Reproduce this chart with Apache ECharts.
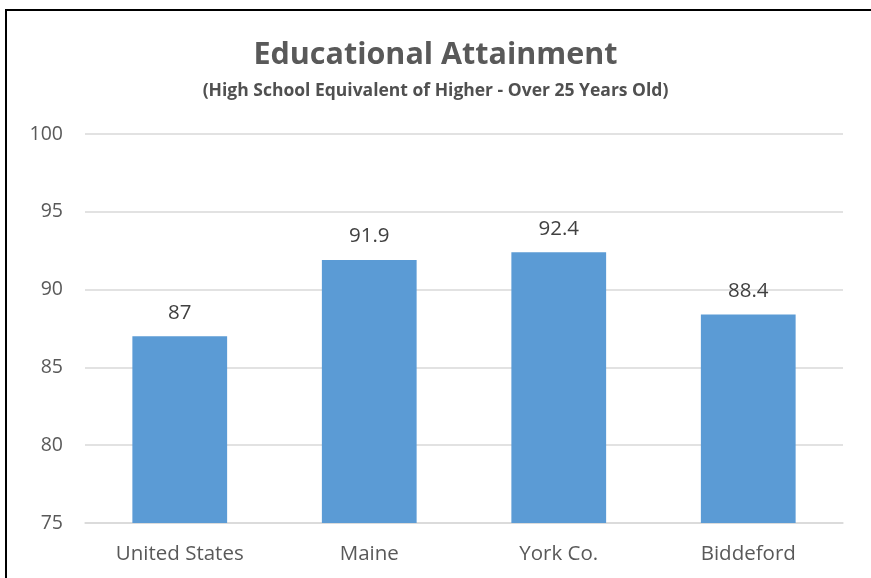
<!DOCTYPE html>
<html>
<head>
<meta charset="utf-8">
<script src="https://cdn.jsdelivr.net/npm/echarts@6/dist/echarts.min.js"></script>
<style>
    html, body { margin: 0; padding: 0; background: #fff; }
    #myChart { width: 871px; height: 578px; }
</style>
</head>
<body>
<div id="myChart"></div>
<script>
// data
var categories = ['United States', 'Maine', 'York Co.', 'Biddeford']
var attainment = [87, 91.9, 92.4, 88.4]
var yTicks = [75, 80, 85, 90, 95, 100]

var font = '"Open Sans", "Noto Sans", sans-serif'

var myChart = echarts.init(document.getElementById('myChart'))
var option = {
    backgroundColor: '#fff',
    title: {
        text: 'Educational Attainment',
        subtext: '(High School Equivalent of Higher - Over 25 Years Old)',
        left: 'center',
        top: 35,
        itemGap: 11,
        textStyle: {
            fontFamily: font,
            fontSize: 30.5,
            fontWeight: 'bold',
            color: '#595959'
        },
        subtextStyle: {
            fontFamily: font,
            fontSize: 17.5,
            fontWeight: 'bold',
            color: '#505050'
        }
    },
    // chart border (left and top edges visible only)
    graphic: [{
        type: 'rect',
        shape: { x: 6, y: 10, width: 900, height: 600 },
        style: { fill: 'none', stroke: '#000', lineWidth: 2 },
        silent: true
    }],
    grid: {
        left: 85,
        right: 28,
        top: 134,
        bottom: 55
    },
    xAxis: {
        type: 'category',
        data: categories,
        axisLine: { lineStyle: { color: '#d9d9d9', width: 1.5 } },
        axisTick: { show: false },
        axisLabel: {
            fontFamily: font,
            fontSize: 20.5,
            color: '#595959',
            margin: 21
        }
    },
    yAxis: {
        type: 'value',
        min: yTicks[0],
        max: yTicks[yTicks.length - 1],
        interval: 5,
        axisLine: { show: false },
        axisTick: { show: false },
        splitLine: { lineStyle: { color: '#d9d9d9', width: 1.5 } },
        axisLabel: {
            fontFamily: font,
            fontSize: 19.5,
            color: '#595959',
            margin: 22
        }
    },
    series: [{
        type: 'bar',
        data: attainment,
        barWidth: '50%',
        itemStyle: { color: '#5b9bd5' },
        label: {
            show: true,
            position: 'top',
            distance: 13,
            fontFamily: font,
            fontSize: 20.5,
            color: '#404040'
        }
    }]
}
myChart.setOption(option)
</script>
</body>
</html>
